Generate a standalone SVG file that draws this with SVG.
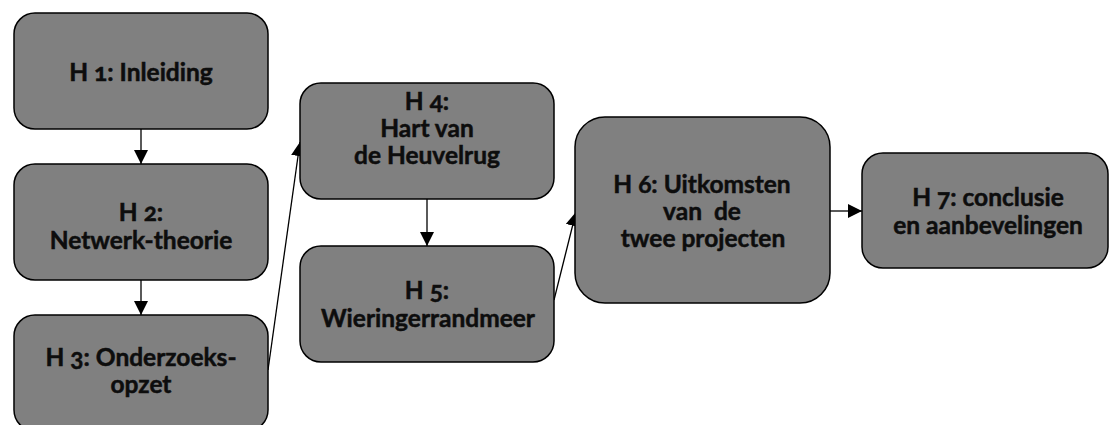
<svg xmlns="http://www.w3.org/2000/svg" width="1109" height="425" viewBox="0 0 1109 425">
  <style>
    .box { fill: #808080; stroke: #000; stroke-width: 1.5; }
    .lbl { font-family: Lato, "Open Sans", "Liberation Sans", sans-serif; font-weight: bold; font-size: 24.5px; fill: #0d0d0d; stroke: #0d0d0d; stroke-width: 0.5; text-anchor: middle; font-variant-numeric: oldstyle-nums; white-space: pre; }
    .edge { stroke: #000; stroke-width: 1.3; fill: none; marker-end: url(#arrow); }
  </style>
  <defs>
    <marker id="arrow" viewBox="0 0 14 14" refX="14" refY="7" markerWidth="14" markerHeight="14" markerUnits="userSpaceOnUse" orient="auto">
      <path d="M0,0 L14,7 L0,14 Z" fill="#000"/>
    </marker>
  </defs>
  <rect width="1109" height="425" fill="#fff"/>

  <g id="connectors">
    <line class="edge" x1="141" y1="129" x2="141" y2="164"/>
    <line class="edge" x1="141" y1="280" x2="141" y2="315"/>
    <line class="edge" x1="268" y1="370" x2="300" y2="142"/>
    <line class="edge" x1="427" y1="199" x2="427" y2="246"/>
    <line class="edge" x1="554" y1="300" x2="576" y2="212"/>
    <line class="edge" x1="830" y1="211" x2="862" y2="211"/>
  </g>

  <g id="h1">
    <rect class="box" x="14" y="13" width="254" height="116" rx="21"/>
    <text class="lbl" x="141" y="81">H 1: Inleiding</text>
  </g>
  <g id="h2">
    <rect class="box" x="14" y="164" width="254" height="116" rx="21"/>
    <text class="lbl" x="141" y="221">H 2:</text>
    <text class="lbl" x="141" y="249">Netwerk-theorie</text>
  </g>
  <g id="h3">
    <rect class="box" x="14" y="315" width="254" height="116" rx="21"/>
    <text class="lbl" x="141" y="366">H 3: Onderzoeks-</text>
    <text class="lbl" x="141" y="393">opzet</text>
  </g>
  <g id="h4">
    <rect class="box" x="300" y="83" width="254" height="116" rx="21"/>
    <text class="lbl" x="427" y="110">H 4:</text>
    <text class="lbl" x="427" y="137">Hart van</text>
    <text class="lbl" x="427" y="164">de Heuvelrug</text>
  </g>
  <g id="h5">
    <rect class="box" x="300" y="246" width="254" height="116" rx="21"/>
    <text class="lbl" x="427" y="299">H 5:</text>
    <text class="lbl" x="428" y="327">Wieringerrandmeer</text>
  </g>
  <g id="h6">
    <rect class="box" x="575" y="117" width="255" height="186" rx="30"/>
    <text class="lbl" x="702" y="193">H 6: Uitkomsten</text>
    <text class="lbl" x="702" y="220">van  de</text>
    <text class="lbl" x="703" y="247">twee projecten</text>
  </g>
  <g id="h7">
    <rect class="box" x="862" y="153" width="246" height="115" rx="21"/>
    <text class="lbl" x="988" y="206">H 7: conclusie</text>
    <text class="lbl" x="988" y="234">en aanbevelingen</text>
  </g>
</svg>
